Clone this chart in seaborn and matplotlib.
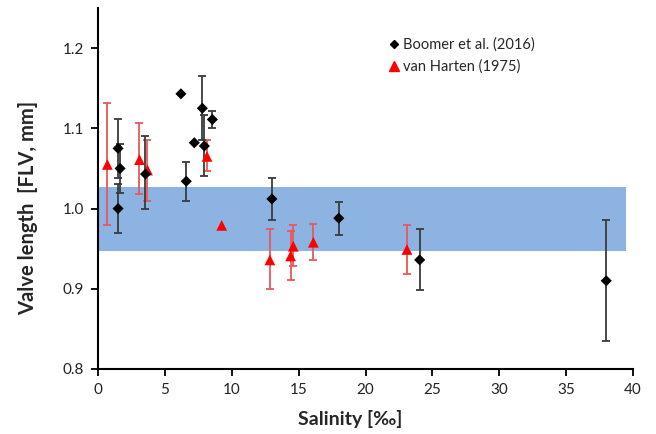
import numpy as np
import pandas as pd
import seaborn as sns
import matplotlib
matplotlib.use("Agg")
import matplotlib.pyplot as plt
from matplotlib.lines import Line2D

# Boomer et al. (2016): salinity, mean valve length and error-bar limits
boomer_sal = [1.5, 1.65, 1.5, 3.55, 6.2, 6.6, 7.2, 7.8, 7.95, 8.55, 13.0, 18.0, 24.05, 38.0]
boomer_len = [1.075, 1.050, 1.000, 1.043, 1.143, 1.034, 1.082, 1.125, 1.078, 1.111, 1.012, 0.988, 0.936, 0.910]
boomer_lo = [1.038, 1.020, 0.970, 1.000, np.nan, 1.009, np.nan, 1.085, 1.040, 1.101, 0.986, 0.967, 0.898, 0.835]
boomer_hi = [1.112, 1.080, 1.030, 1.090, np.nan, 1.058, np.nan, 1.165, 1.116, 1.122, 1.038, 1.008, 0.975, 0.986]

# van Harten (1975)
harten_sal = [0.7, 3.1, 3.7, 8.15, 9.25, 12.85, 14.4, 14.6, 16.1, 23.1]
harten_len = [1.055, 1.061, 1.048, 1.065, 0.979, 0.936, 0.941, 0.953, 0.958, 0.949]
harten_lo = [0.980, 1.018, 1.009, 1.047, np.nan, 0.900, 0.911, 0.928, 0.936, 0.919]
harten_hi = [1.131, 1.107, 1.086, 1.086, np.nan, 0.974, 0.972, 0.979, 0.981, 0.979]

# shaded reference range of valve length
band_x = [0.0, 39.5]
band_y = [0.947, 1.027]

x_ticks = [0, 5, 10, 15, 20, 25, 30, 35, 40]
y_ticks = [0.8, 0.9, 1.0, 1.1, 1.2]

sns.set_theme(style="white")
plt.rcParams["font.family"] = ["Lato", "DejaVu Sans"]

fig = plt.figure(figsize=(6.56, 4.34), dpi=100)
ax = fig.add_axes([98 / 656, 1 - 369 / 434, 535 / 656, 361 / 434])

ax.fill_between(band_x, band_y[0], band_y[1], color="#8DB3E2", lw=0, zorder=1)

boomer = pd.DataFrame({"sal": boomer_sal, "len": boomer_len, "lo": boomer_lo, "hi": boomer_hi})
harten = pd.DataFrame({"sal": harten_sal, "len": harten_len, "lo": harten_lo, "hi": harten_hi})

for df, ecol in [(harten, "#E8585A"), (boomer, "#3A3A3A")]:
    e = df.dropna()
    ax.errorbar(e["sal"], e["len"],
                yerr=[e["len"] - e["lo"], e["hi"] - e["len"]],
                fmt="none", ecolor=ecol, elinewidth=1.3, capsize=3, capthick=1.3, zorder=2)

sns.scatterplot(data=harten, x="sal", y="len", marker="^", color="#FF0000", s=60,
                edgecolor="none", ax=ax, zorder=3)
sns.scatterplot(data=boomer, x="sal", y="len", marker="D", color="black", s=32,
                edgecolor="none", ax=ax, zorder=4)

ax.set_xlim(0, 40)
ax.set_ylim(0.8, 1.25)
ax.set_xticks(x_ticks)
ax.set_xticklabels([str(t) for t in x_ticks])
ax.set_yticks(y_ticks)
ax.set_yticklabels([f"{t:.1f}" for t in y_ticks])

for side in ["top", "right"]:
    ax.spines[side].set_visible(False)
for side in ["left", "bottom"]:
    ax.spines[side].set_color("black")
    ax.spines[side].set_linewidth(1.5)
ax.tick_params(axis="both", which="major", direction="out", length=5, width=1.3,
               color="black", labelsize=11, labelcolor="#222222", pad=5,
               bottom=True, left=True)

ax.set_xlabel("Salinity [‰]", fontsize=14, fontweight="bold")
ax.set_ylabel("Valve length  [FLV, mm]", fontsize=14.5, fontweight="bold")
ax.xaxis.set_label_coords(0.471, -0.114)
ax.yaxis.set_label_coords(-0.112, 0.446)

handles = [
    Line2D([], [], marker="D", color="black", ls="none", markersize=4.5),
    Line2D([], [], marker="^", color="#FF0000", ls="none", markersize=6.5),
]
ax.legend(handles, ["Boomer et al. (2016)", "van Harten (1975)"],
          loc="upper left", bbox_to_anchor=(0.535, 0.935), frameon=False,
          fontsize=10.5, handlelength=0.6, handletextpad=0.3, labelspacing=0.55,
          borderaxespad=0)

fig.savefig("out.png", dpi=100)
